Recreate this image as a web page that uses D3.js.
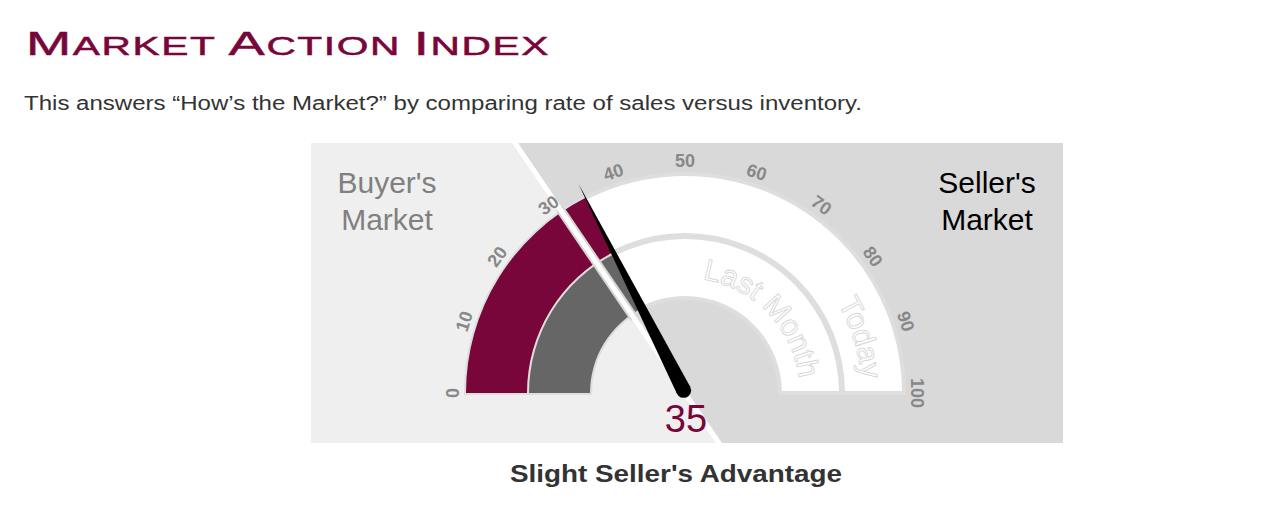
<!DOCTYPE html>
<html><head><meta charset="utf-8">
<script src="https://cdn.jsdelivr.net/npm/d3@7"></script>
<style>html,body{margin:0;padding:0;background:#fff;} svg{display:block}</style>
</head><body>
<svg id="c" width="1284" height="518"></svg>
<script>
// ---- data ----
const titleParts = [["M","big"],["ARKET ","small"],["A","big"],["CTION ","small"],["I","big"],["NDEX","small"]];
const subtitle = "This answers \u201CHow\u2019s the Market?\u201D by comparing rate of sales versus inventory.";
const zoneLabels = [["Buyer's","Market"],["Seller's","Market"]];
const bandNames = ["Today","Last Month"];
const bandValues = [35, 35];
const needleValue = 35;
const thresholdValue = 31;
const tickValues = [0,10,20,30,40,50,60,70,80,90,100];
const tickLabels = ["0","10","20","30","40","50","60","70","80","90","100"];
const verdict = "Slight Seller's Advantage";

// ---- layout ----
const svg = d3.select("#c");
const FONT = "'Liberation Sans', Arial, Helvetica, sans-serif";
const MAROON = "#78063a";
const cx = 685, cy = 393;
const panel = {x:311, y:143, w:752, h:300};
const bands = [
  {name: bandNames[0], value: bandValues[0], r0:158, r1:219, fill: MAROON, textR:177, offset:"97.5%"},
  {name: bandNames[1], value: bandValues[1], r0:95, r1:156, fill: "#666666", textR:115, offset:"96%"}
];

// title
const title = svg.append("text").attr("x",26).attr("y",55)
  .attr("font-family",FONT).attr("fill",MAROON).attr("stroke",MAROON).attr("stroke-width",0.5)
  .attr("letter-spacing",1)
  .attr("textLength",524).attr("lengthAdjust","spacingAndGlyphs");
titleParts.forEach(([t,k]) => title.append("tspan").attr("font-size", k==="big"?34:25.5).text(t));

svg.append("text").attr("x",24).attr("y",110).attr("font-family",FONT)
  .attr("font-size",20).attr("fill","#333").attr("textLength",838).attr("lengthAdjust","spacingAndGlyphs")
  .text(subtitle);

// panel
const defs = svg.append("defs");
defs.append("clipPath").attr("id","pclip").append("rect")
  .attr("x",panel.x).attr("y",panel.y).attr("width",panel.w).attr("height",panel.h);
const ang = d3.scaleLinear().domain([0,100]).range([-Math.PI/2, Math.PI/2]);
const pt = (v,r) => [cx + r*Math.sin(ang(v)), cy - r*Math.cos(ang(v))];

const g = svg.append("g").attr("clip-path","url(#pclip)");
g.append("rect").attr("x",panel.x).attr("y",panel.y).attr("width",panel.w).attr("height",panel.h).attr("fill","#d9d9d9");
const pUp = pt(thresholdValue, 1000), pDn = pt(thresholdValue, -1000);
g.append("path").attr("d", d3.line()([pUp, pDn, [pDn[0]-3000,pDn[1]], [pUp[0]-3000,pUp[1]]]) + "Z").attr("fill","#efefef");
g.append("line").attr("x1",pUp[0]).attr("y1",pUp[1]).attr("x2",pDn[0]).attr("y2",pDn[1])
  .attr("stroke","#fff").attr("stroke-width",5);

// bands
const arc = d3.arc();
bands.forEach(b => {
  svg.append("path").attr("transform",`translate(${cx},${cy})`)
    .attr("d", arc({innerRadius:b.r0, outerRadius:b.r1, startAngle:ang(0), endAngle:ang(100)}))
    .attr("fill","#fff").attr("stroke","#dedede").attr("stroke-width",4);
});
bands.forEach(b => {
  svg.append("path").attr("transform",`translate(${cx},${cy})`)
    .attr("d", arc({innerRadius:b.r0, outerRadius:b.r1, startAngle:ang(0), endAngle:ang(b.value)}))
    .attr("fill",b.fill);
});
// band labels along arcs
bands.forEach((b,i) => {
  const a = pt(0,b.textR), c = pt(100,b.textR);
  defs.append("path").attr("id","tp"+i)
    .attr("d", `M${a[0]},${a[1]} A${b.textR},${b.textR} 0 0 1 ${c[0]},${c[1]}`);
  svg.append("text").attr("font-family",FONT).attr("font-size",30)
    .attr("fill","#fff").attr("stroke","#d4d4d4").attr("stroke-width",0.8)
    .append("textPath").attr("href","#tp"+i).attr("startOffset",b.offset).attr("text-anchor","end")
    .text(b.name);
});

// threshold separator across gauge
const s0 = pt(thresholdValue, 90), s1 = pt(thresholdValue, 223);
svg.append("line").attr("x1",s0[0]).attr("y1",s0[1]).attr("x2",s1[0]).attr("y2",s1[1])
  .attr("stroke","#d6d6d6").attr("stroke-width",9);
svg.append("line").attr("x1",s0[0]).attr("y1",s0[1]).attr("x2",s1[0]).attr("y2",s1[1])
  .attr("stroke","#fff").attr("stroke-width",5);

// tick labels
tickValues.forEach((v,i) => {
  const p = pt(v, 232);
  svg.append("text").attr("transform",`translate(${p[0]},${p[1]}) rotate(${ang(v)*180/Math.PI})`)
    .attr("text-anchor","middle").attr("dominant-baseline","central")
    .attr("font-family",FONT).attr("font-weight","bold").attr("font-size",18).attr("fill","#888")
    .text(tickLabels[i]);
});

// zone labels
[[387,"#808080"],[987,"#000"]].forEach(([x,col],i) => {
  zoneLabels[i].forEach((t,j) => {
    svg.append("text").attr("x",x).attr("y",193+37*j).attr("text-anchor","middle")
      .attr("font-family",FONT).attr("font-size",30).attr("fill",col).text(t);
  });
});

// needle
const a = ang(needleValue), w = 7.5;
const base = pt(needleValue, 3), tip = pt(needleValue, 235);
const perp = [Math.cos(a), Math.sin(a)];
svg.append("path").attr("d", d3.line()([[base[0]+w*perp[0], base[1]+w*perp[1]], tip, [base[0]-w*perp[0], base[1]-w*perp[1]]])+"Z")
  .attr("fill","#000");
svg.append("circle").attr("cx",base[0]).attr("cy",base[1]).attr("r",w).attr("fill","#000");

// value
svg.append("text").attr("x",686).attr("y",432).attr("text-anchor","middle")
  .attr("font-family",FONT).attr("font-size",38).attr("fill",MAROON).text(needleValue);

svg.append("text").attr("x",676).attr("y",482).attr("text-anchor","middle")
  .attr("font-family",FONT).attr("font-weight","bold").attr("font-size",24).attr("fill","#333")
  .attr("textLength",332).attr("lengthAdjust","spacingAndGlyphs").text(verdict);
</script>
</body></html>
